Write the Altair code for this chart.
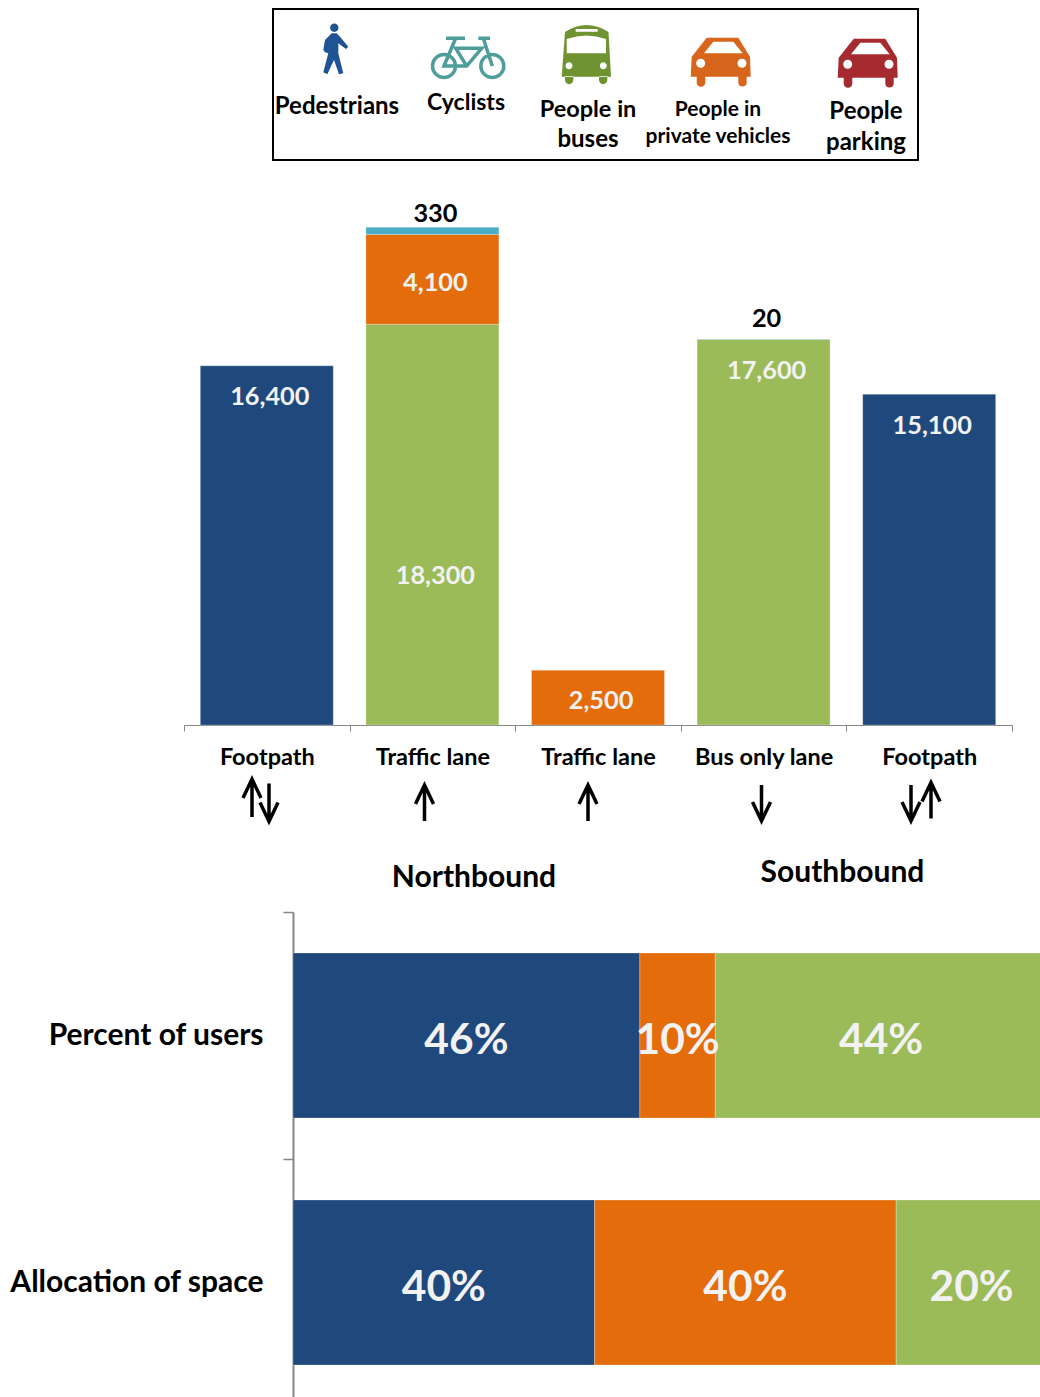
import altair as alt
import pandas as pd

# ---- values ----
LANES = ["Footpath|a", "Traffic lane|b", "Traffic lane|c", "Bus only lane|d", "Footpath|e"]
MODES = ["Pedestrians", "People in buses", "People in private vehicles", "Cyclists"]
MODE_COLORS = ["#1F497D", "#9BBB59", "#E46C0A", "#4BACC6"]
PEDESTRIANS = [16400, 0, 0, 0, 15100]
BUSES = [0, 18300, 0, 17600, 0]
PRIVATE = [0, 4100, 2500, 0, 0]
CYCLISTS = [0, 330, 0, 20, 0]

SHARE_ROWS = ["Percent of users", "Allocation of space"]
SHARE_GROUPS = ["Walking and cycling", "Private vehicles", "Buses"]
SHARE_COLORS = ["#1F497D", "#E46C0A", "#9BBB59"]
SHARE_USERS = [46, 10, 44]
SHARE_SPACE = [40, 40, 20]

FONT = "Lato"
LIGHT = "#F2F2F2"
W = 1040
TOP_H, MID_H, LOW_H = 170, 742, 494


def circle(cx, cy, r):
    return f"M{cx-r},{cy}A{r},{r} 0 1 1 {cx+r},{cy}A{r},{r} 0 1 1 {cx-r},{cy}Z"


def polygon(*pts):
    return "M" + "L".join(f"{x},{y}" for x, y in pts) + "Z"


def arrow(length, up=True, head_w=9, head_h=19):
    s = -1 if up else 1
    t = s * length / 2
    return (f"M0,{-t}L0,{t}M{-head_w},{t - s * head_h}L0,{t}L{head_w},{t - s * head_h}")


PERSON = circle(-0.7, -22.3, 4.2) + polygon(
    (-3.3, -16.7), (1.7, -16.7), (5, -13.3), (13.3, -3.3), (11, -1), (3.3, -6.7), (3.3, 3.3),
    (8.3, 23.3), (4, 24.3), (-1, 10), (-7.7, 24.3), (-11.7, 22.3), (-6.7, 3.3), (-10, 2.3),
    (-11.7, 0), (-10, -10),
)
BIKE = (
    circle(-24, 6, 11.5) + circle(24.3, 6, 11.5)
    + "M-22,-21.7L-3,-21.7M-12.3,-21.7L-24,6L-1.3,6L13.7,-11.7L-12.3,-11.7L-1.3,6"
    + "M10.3,-21.7L22,-21.7M15.3,-21.7L24.3,6"
)
BUS_BODY = (
    "M-24.3,22.7L25,22.7L22.5,-22Q0.7,-36 -21,-22Z"
    "M-21,22L-12.7,22L-12.7,26A4.15,4.15 0 0 1 -21,26Z"
    "M13,22L21.3,22L21.3,26A4.15,4.15 0 0 1 13,26Z"
)
BUS_GAPS = (
    "M-19.3,-0.7L20,-0.7L20,-15Q0.5,-22 -19.3,-15Z"
    + polygon((-10.3, -25), (11.7, -25), (11.7, -22.3), (-10.3, -22.3))
    + circle(-17, 11.7, 3.5) + circle(17.3, 11.7, 3.5)
)
CAR_BODY = (
    polygon((-13.3, -24.3), (18.3, -24.3), (30, -5.3), (30.7, 14.7), (-29.3, 14.7), (-28.3, -5.3))
    + "M-23.3,14L-14.7,14L-14.7,20.4A4.3,4.3 0 0 1 -23.3,20.4Z"
    + "M18.3,14L26.7,14L26.7,20.4A4.2,4.2 0 0 1 18.3,20.4Z"
)
CAR_GAPS = (
    polygon((-6.7, -20.3), (13.3, -20.3), (22.7, -8.7), (-16, -8.7))
    + circle(-19.3, 1.3, 4.5) + circle(22, 1.3, 4.5)
)


def canvas(y_top, height):
    """Scales in page pixels for annotation marks of one panel."""
    sx = alt.Scale(domain=[0, W], range=[0, W], nice=False, zero=False)
    sy = alt.Scale(domain=[y_top, y_top + height], range=[0, height], nice=False, zero=False)
    return sx, sy


def glyph(scales, x, y, path, fill=None, stroke=None, width=0):
    sx, sy = scales
    opts = dict(shape=path, size=4, opacity=1, filled=fill is not None, strokeWidth=width)
    if fill is not None:
        opts["fill"] = fill
    if stroke is not None:
        opts["stroke"] = stroke
    else:
        opts["strokeOpacity"] = 0
    return alt.Chart(pd.DataFrame({"x": [x], "y": [y]})).mark_point(**opts).encode(
        x=alt.X("x:Q", scale=sx, axis=None), y=alt.Y("y:Q", scale=sy, axis=None)
    )


def caption(scales, x, y, text, size, color="black"):
    sx, sy = scales
    return alt.Chart(pd.DataFrame({"x": [x], "y": [y], "t": [text]})).mark_text(
        font=FONT, fontWeight="bold", fontSize=size, color=color, align="center", baseline="middle"
    ).encode(
        x=alt.X("x:Q", scale=sx, axis=None), y=alt.Y("y:Q", scale=sy, axis=None), text="t:N"
    )


# ---- key across the top ----
top = canvas(0, TOP_H)
frame = alt.Chart(pd.DataFrame({"x": [273], "x2": [918], "y": [9], "y2": [160]})).mark_rect(
    fill="white", stroke="black", strokeWidth=2
).encode(
    x=alt.X("x:Q", scale=top[0], axis=None), x2="x2:Q",
    y=alt.Y("y:Q", scale=top[1], axis=None), y2="y2:Q",
)
key_layers = [
    frame,
    glyph(top, 335, 50, PERSON, fill="#1F5494"),
    glyph(top, 468, 60, BIKE, stroke="#4F9D9B", width=3.5),
    glyph(top, 586, 54, BUS_BODY, fill="#6F9330"),
    glyph(top, 586, 54, BUS_GAPS, fill="white"),
    glyph(top, 720, 62, CAR_BODY, fill="#D8651C"),
    glyph(top, 720, 62, CAR_GAPS, fill="white"),
    glyph(top, 867, 63, CAR_BODY, fill="#A62B31"),
    glyph(top, 867, 63, CAR_GAPS, fill="white"),
    caption(top, 337, 107, "Pedestrians", 24),
    caption(top, 466, 103, "Cyclists", 23),
    caption(top, 588, 110, "People in", 23.5),
    caption(top, 588, 140, "buses", 24),
    caption(top, 718, 110, "People in", 21),
    caption(top, 718, 137, "private vehicles", 21),
    caption(top, 866, 112, "People", 24),
    caption(top, 866, 143, "parking", 24),
]
key = alt.layer(*key_layers).properties(width=W, height=TOP_H)

# ---- people per lane ----
BASE_Y = 725 - TOP_H
PX_PER_10K = 219
lane_scale = alt.Scale(domain=LANES, range=[184, 1012], padding=0)
lane_y = alt.Scale(domain=[0, 25000], range=[BASE_Y, BASE_Y - PX_PER_10K * 2.5], nice=False)
lane_x = alt.X(
    "lane:N", scale=lane_scale, sort=LANES, title=None,
    axis=alt.Axis(
        offset=BASE_Y - MID_H, labelExpr="split(datum.label, '|')[0]", labelAngle=0,
        tickBand="extent", tickSize=6, tickColor="#868686", domainColor="#868686",
        labelFont=FONT, labelFontWeight="bold", labelFontSize=23.5, labelColor="black",
        labelPadding=14, labelBaseline="top", grid=False,
    ),
)

rows = []
for i, lane in enumerate(LANES):
    floor = 0
    for mode, series in zip(MODES, [PEDESTRIANS, BUSES, PRIVATE, CYCLISTS]):
        if series[i]:
            rows.append(dict(lane=lane, mode=mode, value=series[i], y0=floor, y1=floor + series[i]))
            floor += series[i]
lanes_df = pd.DataFrame(rows)

bars = alt.Chart(lanes_df).mark_bar(
    width=alt.RelativeBandSize(band=0.803), stroke="white", strokeWidth=0.5, strokeOpacity=0.5
).encode(
    x=lane_x,
    y=alt.Y("y0:Q", scale=lane_y, axis=None),
    y2="y1:Q",
    color=alt.Color("mode:N", scale=alt.Scale(domain=MODES, range=MODE_COLORS), legend=None),
)


def lane_label(lane, value, anchor, shift, color):
    return alt.Chart(pd.DataFrame({"lane": [lane], "y": [anchor], "t": [f"{value:,}"]})).mark_text(
        font=FONT, fontWeight="bold", fontSize=25.3, color=color, dx=3, dy=shift, baseline="middle"
    ).encode(x=lane_x, y=alt.Y("y:Q", scale=lane_y, axis=None), text="t:N")


value_labels = [
    lane_label(LANES[0], 16400, 16400, 31, LIGHT),
    lane_label(LANES[1], 18300, 18300 / 2, 51, LIGHT),
    lane_label(LANES[1], 4100, 18300 + 4100 / 2, 4, LIGHT),
    lane_label(LANES[1], 330, 18300 + 4100 + 330, -13, "black"),
    lane_label(LANES[2], 2500, 2500 / 2, 3, LIGHT),
    lane_label(LANES[3], 17600, 17600, 31, LIGHT),
    lane_label(LANES[3], 20, 17620, -20, "black"),
    lane_label(LANES[4], 15100, 15100, 32, LIGHT),
]

mid = canvas(TOP_H, MID_H)
notes = [
    glyph(mid, 252, 798, arrow(38, True), stroke="black", width=3.5),
    glyph(mid, 269, 802.5, arrow(38, False), stroke="black", width=3.5),
    glyph(mid, 424.5, 803, arrow(36, True), stroke="black", width=3.5),
    glyph(mid, 588, 803, arrow(36, True), stroke="black", width=3.5),
    glyph(mid, 761.5, 803, arrow(36, False), stroke="black", width=3.5),
    glyph(mid, 911, 803, arrow(36, False), stroke="black", width=3.5),
    glyph(mid, 931, 800.5, arrow(36, True), stroke="black", width=3.5),
    caption(mid, 474, 878, "Northbound", 30),
    caption(mid, 842.5, 873, "Southbound", 30),
]
lanes_chart = alt.layer(
    alt.layer(bars, *value_labels),
    alt.layer(*notes),
).resolve_scale(x="independent", y="independent").properties(width=W, height=MID_H)

# ---- users versus space ----
share_rows = []
for row, series in zip(SHARE_ROWS, [SHARE_USERS, SHARE_SPACE]):
    floor = 0
    for group, pct in zip(SHARE_GROUPS, series):
        share_rows.append(dict(row=row, group=group, pct=pct, x0=floor, x1=floor + pct,
                               mid=floor + pct / 2, label=f"{pct}%"))
        floor += pct
share_df = pd.DataFrame(share_rows)

share_x = alt.Scale(domain=[0, 100], range=[293, 1047], nice=False)
share_y = alt.Y(
    "row:N", sort=SHARE_ROWS, title=None,
    scale=alt.Scale(domain=SHARE_ROWS, range=[0, LOW_H], padding=0),
    axis=alt.Axis(
        orient="left", offset=-293, tickBand="extent", tickSize=10, tickColor="#868686",
        tickWidth=1.5, domainColor="#868686", domainWidth=2, labelFont=FONT,
        labelFontWeight="bold", labelFontSize=30, labelColor="black", labelPadding=20,
        labelLimit=400, grid=False,
    ),
)

share_bars = alt.Chart(share_df).mark_bar(
    height=alt.RelativeBandSize(band=0.668), clip=True,
    stroke="white", strokeWidth=0.5, strokeOpacity=0.5,
).encode(
    x=alt.X("x0:Q", scale=share_x, axis=None),
    x2="x1:Q",
    y=share_y,
    color=alt.Color("group:N", scale=alt.Scale(domain=SHARE_GROUPS, range=SHARE_COLORS), legend=None),
)
share_text = alt.Chart(share_df).mark_text(
    font=FONT, fontWeight="bold", fontSize=42.5, color=LIGHT, baseline="middle", dy=5
).encode(
    x=alt.X("mid:Q", scale=share_x, axis=None),
    y=share_y,
    text="label:N",
)
share_chart = alt.layer(share_bars, share_text).properties(width=W, height=LOW_H)

chart = (
    alt.vconcat(key, lanes_chart, share_chart, spacing=0, bounds="flush")
    .resolve_scale(color="independent")
    .properties(padding=0, background="white")
    .configure_view(stroke=None)
)
chart.save("out.html", embed_options={"renderer": "svg", "actions": False})
